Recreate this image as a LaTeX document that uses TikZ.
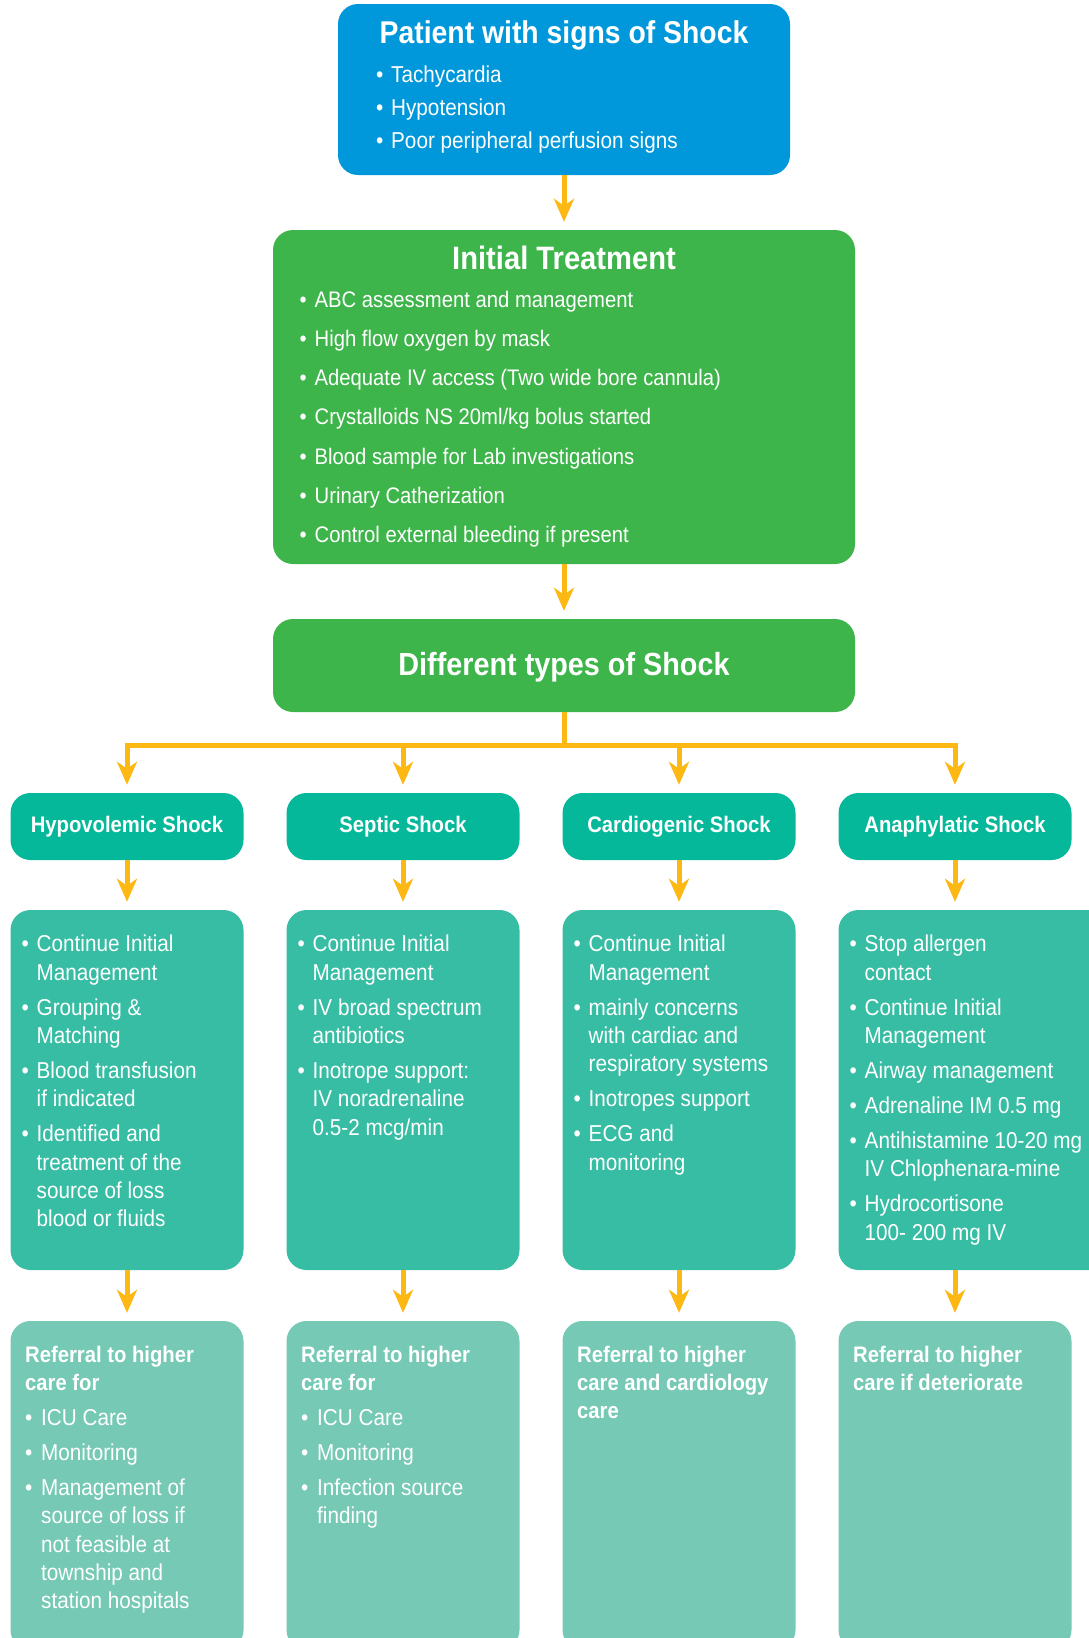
\documentclass[tikz,border=0pt]{standalone}
\usepackage{fontspec}
\setmainfont{Liberation Sans}[FakeStretch=0.9]
\usetikzlibrary{arrows.meta,calc}

\definecolor{shockblue}{HTML}{0098DA}
\definecolor{treatgreen}{HTML}{3DB54A}
\definecolor{typeteal}{HTML}{05B89A}
\definecolor{careteal}{HTML}{37BDA4}
\definecolor{referteal}{HTML}{76C9B5}
\definecolor{flowgold}{HTML}{FDB813}

% list helpers: a bullet in a fixed-width slot, and the matching hanging indent
\newcommand\bulletmark{\makebox[15pt][l]{•}}
\newcommand\hangline{\hspace*{15pt}}
\newcommand\refbullet{\makebox[16pt][l]{•}}
\newcommand\refhang{\hspace*{16pt}}
\newcommand\headfont{\bfseries\fontsize{22.5}{28.3}\selectfont}

\tikzset{
  panel/.style={rounded corners=20pt, inner sep=0pt, draw=none},
  flow/.style={draw=flowgold, line width=5pt, shorten >=8pt,
    -{Stealth[length=23pt,width=20pt,inset=7pt]}},
  busline/.style={draw=flowgold, line width=5pt},
  titletext/.style={text=white, anchor=base, inner sep=0pt,
    font=\bfseries\fontsize{32}{38}\selectfont},
  body/.style={text=white, align=left, anchor=north west, inner sep=0pt,
    font=\fontsize{23}{28.3}\selectfont},
  typebox/.style={panel, fill=typeteal, minimum width=233pt, minimum height=67pt,
    text=white, font=\bfseries\fontsize{22.5}{27}\selectfont},
  carebox/.style={panel, fill=careteal, minimum width=233pt, minimum height=360pt},
  referbox/.style={panel, fill=referteal, minimum width=233pt, minimum height=329pt},
}

\begin{document}
\begin{tikzpicture}[x=1pt,y=-1pt]
\useasboundingbox (0,0) rectangle (1089,1638);
\clip (0,0) rectangle (1089,1638);

% ---- patient presentation ----
\node[panel, fill=shockblue, minimum width=452pt, minimum height=171pt] (patient) at (564,89.5) {};
\node[titletext, font=\bfseries\fontsize{31.5}{38}\selectfont] (patienttitle) at (564,43) {Patient with signs of Shock};
\node[body, font=\fontsize{23}{33}\selectfont] (patientsigns) at (376,58.9)
  {\strut\bulletmark Tachycardia\\
   \bulletmark Hypotension\\
   \bulletmark Poor peripheral perfusion signs};

% ---- initial treatment ----
\node[panel, fill=treatgreen, minimum width=582pt, minimum height=334pt] (initial) at (564,397) {};
\node[titletext, font=\bfseries\fontsize{32.4}{38}\selectfont] (initialtitle) at (564,269) {Initial Treatment};
\node[body, font=\fontsize{22.5}{39.2}\selectfont] (initialsteps) at (299.5,279.56)
  {\strut\bulletmark ABC assessment and management\\
   \bulletmark High flow oxygen by mask\\
   \bulletmark Adequate IV access (Two wide bore cannula)\\
   \bulletmark Crystalloids NS 20ml/kg bolus started\\
   \bulletmark Blood sample for Lab investigations\\
   \bulletmark Urinary Catherization\\
   \bulletmark Control external bleeding if present};

% ---- shock types ----
\node[panel, fill=treatgreen, minimum width=582pt, minimum height=93pt] (types) at (564,665.5) {};
\node[titletext] (typestitle) at (564,675) {Different types of Shock};

\node[typebox] (hypo)  at (127,826.5) {Hypovolemic Shock};
\node[typebox] (septic) at (403,826.5) {Septic Shock};
\node[typebox] (cardio) at (679,826.5) {Cardiogenic Shock};
\node[typebox] (anaph) at (955,826.5) {Anaphylatic Shock};

% ---- management per type ----
\node[carebox] (hypocare)  at (127,1090) {};
\node[carebox] (septiccare) at (403,1090) {};
\node[carebox] (cardiocare) at (679,1090) {};
\node[carebox, minimum width=273pt] (anaphcare) at (975,1090) {};

\node[body] (hypotext) at (21.5,931.8)
  {\strut\bulletmark Continue Initial\\
   \hangline Management\\[6.7pt]
   \bulletmark Grouping \&\\
   \hangline Matching\\[6.7pt]
   \bulletmark Blood transfusion\\
   \hangline if indicated\\[6.7pt]
   \bulletmark Identified and\\
   \hangline treatment of the\\
   \hangline source of loss\\
   \hangline blood or fluids};

\node[body] (septictext) at (297.5,931.8)
  {\strut\bulletmark Continue Initial\\
   \hangline Management\\[6.7pt]
   \bulletmark IV broad spectrum\\
   \hangline antibiotics\\[6.7pt]
   \bulletmark Inotrope support:\\
   \hangline IV noradrenaline\\
   \hangline 0.5-2 mcg/min};

\node[body] (cardiotext) at (573.5,931.8)
  {\strut\bulletmark Continue Initial\\
   \hangline Management\\[6.7pt]
   \bulletmark mainly concerns\\
   \hangline with cardiac and\\
   \hangline respiratory systems\\[6.7pt]
   \bulletmark Inotropes support\\[6.7pt]
   \bulletmark ECG and\\
   \hangline monitoring};

\node[body] (anaphtext) at (849.5,931.8)
  {\strut\bulletmark Stop allergen\\
   \hangline contact\\[6.7pt]
   \bulletmark Continue Initial\\
   \hangline Management\\[6.7pt]
   \bulletmark Airway management\\[6.7pt]
   \bulletmark Adrenaline IM 0.5 mg\\[6.7pt]
   \bulletmark Antihistamine 10-20 mg\\
   \hangline IV Chlophenara-mine\\[6.7pt]
   \bulletmark Hydrocortisone\\
   \hangline 100- 200 mg IV};

% ---- referral ----
\node[referbox] (hyporef)  at (127,1485.5) {};
\node[referbox] (septicref) at (403,1485.5) {};
\node[referbox] (cardioref) at (679,1485.5) {};
\node[referbox] (anaphref) at (955,1485.5) {};

\node[body] (hyporeftext) at (25,1342.2)
  {\strut{\headfont Referral to higher}\\
   {\headfont care for}\\[6.7pt]
   \refbullet ICU Care\\[6.7pt]
   \refbullet Monitoring\\[6.7pt]
   \refbullet Management of\\
   \refhang source of loss if\\
   \refhang not feasible at\\
   \refhang township and\\
   \refhang station hospitals};

\node[body] (septicreftext) at (301,1342.2)
  {\strut{\headfont Referral to higher}\\
   {\headfont care for}\\[6.7pt]
   \refbullet ICU Care\\[6.7pt]
   \refbullet Monitoring\\[6.7pt]
   \refbullet Infection source\\
   \refhang finding};

\node[body] (cardioreftext) at (577,1342.2)
  {\strut{\headfont Referral to higher}\\
   {\headfont care and cardiology}\\
   {\headfont care}};

\node[body] (anaphreftext) at (853,1342.2)
  {\strut{\headfont Referral to higher}\\
   {\headfont care if deteriorate}};

% ---- connectors ----
\draw[flow] (patient) -- (initial);
\draw[flow] (initial) -- (types);
\coordinate (fork) at (564,745);
\draw[busline] (types.south) -- (fork);
\draw[flow] (fork) -| (hypo.north);
\draw[flow] (fork) -| (septic.north);
\draw[flow] (fork) -| (cardio.north);
\draw[flow] (fork) -| (anaph.north);

\draw[flow] (hypo) -- (hypocare);
\draw[flow] (septic) -- (septiccare);
\draw[flow] (cardio) -- (cardiocare);
\draw[flow] (anaph.south) -- (anaph.south |- anaphcare.north);

\draw[flow] (hypocare) -- (hyporef);
\draw[flow] (septiccare) -- (septicref);
\draw[flow] (cardiocare) -- (cardioref);
\draw[flow] (anaph.south |- anaphcare.south) -- (anaphref.north);
\end{tikzpicture}
\end{document}
